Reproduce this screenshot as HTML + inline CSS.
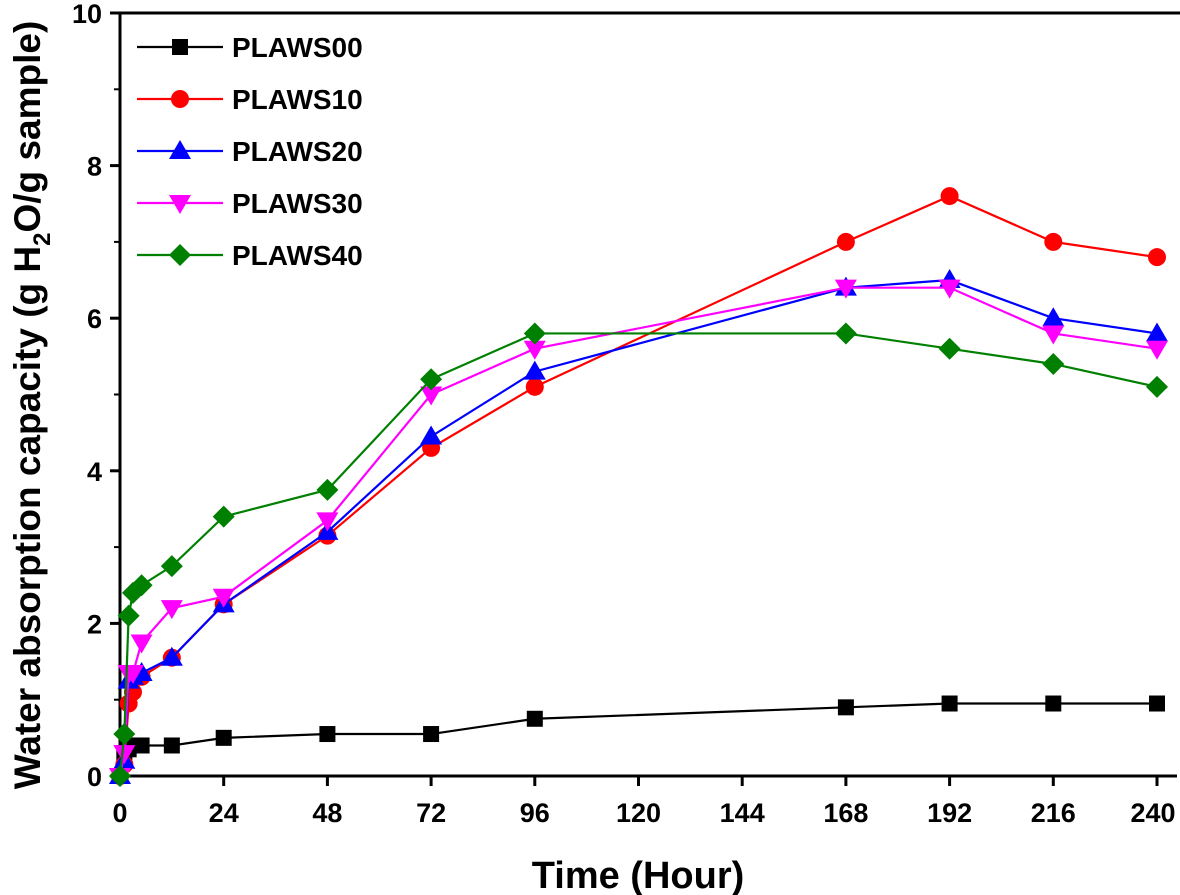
<!DOCTYPE html>
<html><head><meta charset="utf-8"><style>
html,body{margin:0;padding:0;background:#fff;}
svg{display:block;font-family:"Liberation Sans",Arial,sans-serif;font-weight:bold;}
</style></head><body>
<svg id="chart" width="1180" height="895" viewBox="0 0 1180 895" xmlns="http://www.w3.org/2000/svg">
<g id="axes"></g>
<g id="series"></g>
<g id="legend"></g>
<text x="638" y="888" font-size="38" text-anchor="middle">Time (Hour)</text>
<text transform="translate(40,405) rotate(-90)" font-size="37" text-anchor="middle">Water absorption capacity (g H<tspan font-size="24" dy="10">2</tspan><tspan dy="-10">O/g sample)</tspan></text>
</svg>
<script>
const times = [0, 1, 2, 3, 5, 12, 24, 48, 72, 96, 168, 192, 216, 240];
const s00 = [0, 0.3, 0.35, 0.4, 0.4, 0.4, 0.5, 0.55, 0.55, 0.75, 0.9, 0.95, 0.95, 0.95];
const s10 = [0, 0.15, 0.95, 1.1, 1.3, 1.55, 2.25, 3.15, 4.3, 5.1, 7.0, 7.6, 7.0, 6.8];
const s20 = [0, 0.2, 1.25, 1.3, 1.35, 1.55, 2.25, 3.2, 4.45, 5.3, 6.4, 6.5, 6.0, 5.8];
const s30 = [0, 0.3, 1.35, 1.35, 1.75, 2.2, 2.35, 3.35, 5.0, 5.6, 6.4, 6.4, 5.8, 5.6];
const s40 = [0, 0.55, 2.1, 2.4, 2.5, 2.75, 3.4, 3.75, 5.2, 5.8, 5.8, 5.6, 5.4, 5.1];
const xTicks = [0, 24, 48, 72, 96, 120, 144, 168, 192, 216, 240];
const yTicks = [0, 2, 4, 6, 8, 10];
const seriesNames = ["PLAWS00", "PLAWS10", "PLAWS20", "PLAWS30", "PLAWS40"];

const X0 = 120, X1 = 1157, Y0 = 776, Y1 = 13;
const xs = t => X0 + (t / 240) * (X1 - X0);
const ys = v => Y0 - (v / 10) * (Y0 - Y1);
const NS = "http://www.w3.org/2000/svg";
function mk(tag, attrs, parent) {
  const e = document.createElementNS(NS, tag);
  for (const k in attrs) e.setAttribute(k, attrs[k]);
  parent.appendChild(e);
  return e;
}
const axes = document.getElementById("axes");
const frame = mk("path", {d:`M${X0},${Y1} L${X0},${Y0} L${X1+20},${Y0} M${X0},${Y1} L1180,${Y1}`, stroke:"#000", "stroke-width":3, fill:"none"}, axes);


xTicks.forEach(t => {
  const x = xs(t);
  const l = mk("line", {x1:x, y1:Y0, x2:x, y2:Y0+10, stroke:"#000", "stroke-width":3}, axes);
  
  
  const tx = mk("text", {x: t===240 ? x-4 : x, y:Y0+46, "font-size":27, "text-anchor":"middle"}, axes);
  tx.textContent = t;
  
  
});
yTicks.forEach(v => {
  const y = ys(v);
  const l = mk("line", {x1:X0-10, y1:y, x2:X0, y2:y, stroke:"#000", "stroke-width":3}, axes);
  
  
  const tx = mk("text", {x:X0-18, y:y+10, "font-size":27, "text-anchor":"end"}, axes);
  tx.textContent = v;
  
  
});
for (let v = 1; v < 10; v += 2) {
  const l = mk("line", {x1:X0-6, y1:ys(v), x2:X0, y2:ys(v), stroke:"#000", "stroke-width":2}, axes);
  
  
}

const seriesData = [s00, s10, s20, s30, s40];
const colors = ["#000000", "#ff0000", "#0000ff", "#ff00ff", "#008000"];
const shapes = ["square", "circle", "up", "down", "diamond"];
function marker(g, shape, x, y, c) {
  let e;
  if (shape === "square") e = mk("rect", {x:x-8, y:y-8, width:16, height:16, fill:c}, g);
  else if (shape === "circle") e = mk("circle", {cx:x, cy:y, r:9, fill:c}, g);
  else if (shape === "up") e = mk("polygon", {points:`${x},${y-11} ${x+11},${y+8} ${x-11},${y+8}`, fill:c}, g);
  else if (shape === "down") e = mk("polygon", {points:`${x},${y+11} ${x+11},${y-8} ${x-11},${y-8}`, fill:c}, g);
  else e = mk("polygon", {points:`${x},${y-11} ${x+11},${y} ${x},${y+11} ${x-11},${y}`, fill:c}, g);
  return e;
}
const sg = document.getElementById("series");
seriesData.forEach((vals, i) => {
  const g = mk("g", {}, sg);
  
  
  const pts = times.map((t, j) => `${xs(t)},${ys(vals[j])}`).join(" ");
  const pl = mk("polyline", {points:pts, fill:"none", stroke:colors[i], "stroke-width":2.2}, g);
  
  
  times.forEach((t, j) => {
    const m = marker(g, shapes[i], xs(t), ys(vals[j]), colors[i]);
    
    
  });
});

const lg = document.getElementById("legend");
seriesNames.forEach((n, i) => {
  const y = 47 + i * 52;
  const g = mk("g", {}, lg);
  
  
  mk("line", {x1:137, y1:y, x2:223, y2:y, stroke:colors[i], "stroke-width":2.2}, g);
  marker(g, shapes[i], 180, y, colors[i]);
  const tx = mk("text", {x:232, y:y+10, "font-size":28}, g);
  tx.textContent = n;
});
</script>
</body></html>
